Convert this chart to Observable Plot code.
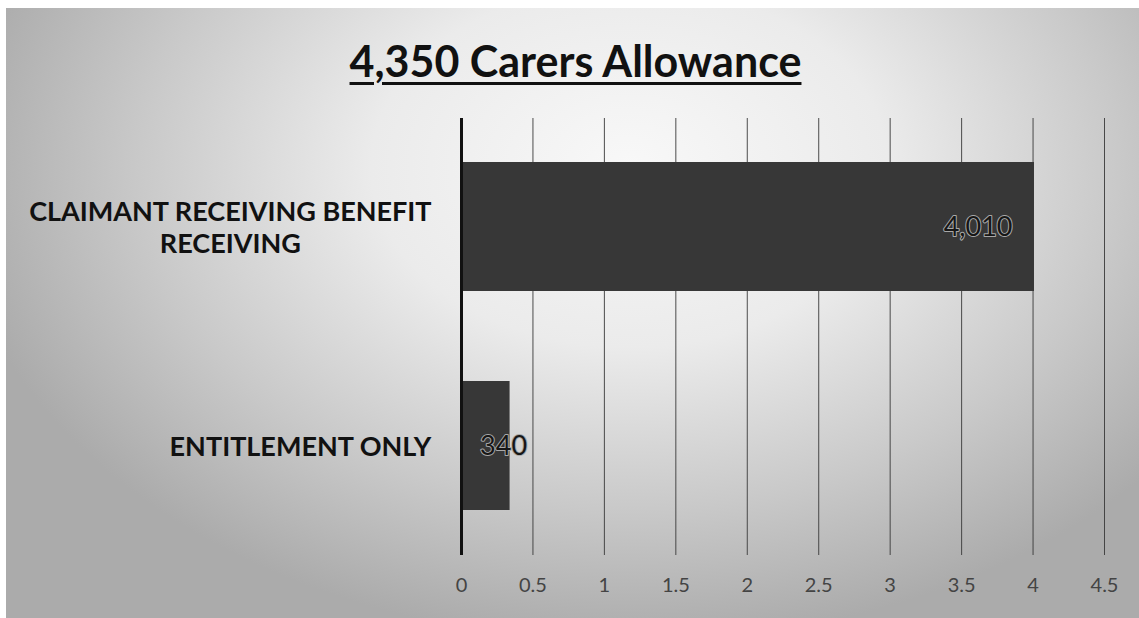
<!DOCTYPE html>
<html>
<head>
<meta charset="utf-8">
<script src="https://cdn.jsdelivr.net/npm/d3@7"></script>
<script src="https://cdn.jsdelivr.net/npm/@observablehq/plot@0.6"></script>
<style>
  html, body { margin: 0; padding: 0; background: #fff; }
  body { width: 1139px; height: 618px; position: relative; overflow: hidden; font-family: Lato, "Open Sans", sans-serif; }
  #bg { position: absolute; left: 6px; top: 8px; width: 1133px; height: 610px;
        background: radial-gradient(ellipse 60% 78% at 55% 26%, #f8f8f8 0%, #ebebeb 38%, #c9c9c9 72%, #ababab 100%); }
  #title { position: absolute; left: 0; top: 35px; width: 1139px; height: 60px; line-height: 50px; box-sizing: border-box; padding-left: 12px;
           text-align: center; font: bold 43px Lato, sans-serif; color: #111;
           text-decoration: underline; text-decoration-thickness: 3px; text-underline-offset: 5px; }
  #chart { position: absolute; left: 0; top: 110px; }
  #chart svg { background: transparent; overflow: visible; }
</style>
</head>
<body>
<div id="bg"></div>
<div id="title">4,350 Carers Allowance</div>
<div id="chart"></div>
<script>
// Data (values in thousands)
const categories = ["CLAIMANT RECEIVING BENEFIT\nRECEIVING", "ENTITLEMENT ONLY"];
const values = [4.01, 0.34];
const valueLabels = ["4,010", "340"];
const xTicks = [0, 0.5, 1, 1.5, 2, 2.5, 3, 3.5, 4, 4.5];
const xTickLabels = ["0", "0.5", "1", "1.5", "2", "2.5", "3", "3.5", "4", "4.5"];

const data = categories.map((c, i) => ({category: c, value: values[i], label: valueLabels[i]}));

const chart = Plot.plot({
  width: 1139,
  height: 508,
  marginTop: 8,
  marginBottom: 63,
  marginLeft: 461,
  marginRight: 35,
  style: {background: "transparent", fontFamily: "Lato, sans-serif"},
  x: {domain: [0, 4.5], ticks: xTicks},
  y: {domain: categories, paddingInner: 0.41, paddingOuter: 0.2},
  marks: [
    Plot.gridX(xTicks.filter(t => t > 0), {stroke: "#3a3a3a", strokeOpacity: 0.9, strokeWidth: 1}),
    Plot.barX(data, {x: "value", y: "category", fill: "#373737"}),
    Plot.ruleX([0], {stroke: "#111", strokeWidth: 3}),
    Plot.text(data.filter(d => d.value >= 1), {x: "value", y: "category", text: "label", textAnchor: "end", dx: -22,
      fontSize: 27, fill: "#161616", stroke: "#a8a8a8", strokeWidth: 2}),
    Plot.text(data.filter(d => d.value < 1), {x: "value", y: "category", text: "label", textAnchor: "start", dx: -30,
      fontSize: 27, fill: "#161616", stroke: "#a8a8a8", strokeWidth: 2}),
    Plot.axisX({ticks: xTicks, tickFormat: (d) => xTickLabels[xTicks.indexOf(d)], tickSize: 0, tickPadding: 22,
      fontSize: 20, fill: "#444", label: null}),
    Plot.axisY({tickSize: 0, tickPadding: 30, fontSize: 27, fontWeight: "bold", fill: "#111", label: null, lineHeight: 1.16})
  ]
});

document.getElementById("chart").appendChild(chart);

// Center multi-line category labels within their own block (as in the original)
chart.querySelectorAll('g[aria-label="y-axis tick label"] text').forEach(t => {
  const w = t.getBBox().width;
  t.setAttribute("text-anchor", "middle");
  const tr = t.getAttribute("transform") || "";
  t.setAttribute("transform", tr + ` translate(${-w / 2},0)`);
});
</script>
</body>
</html>
